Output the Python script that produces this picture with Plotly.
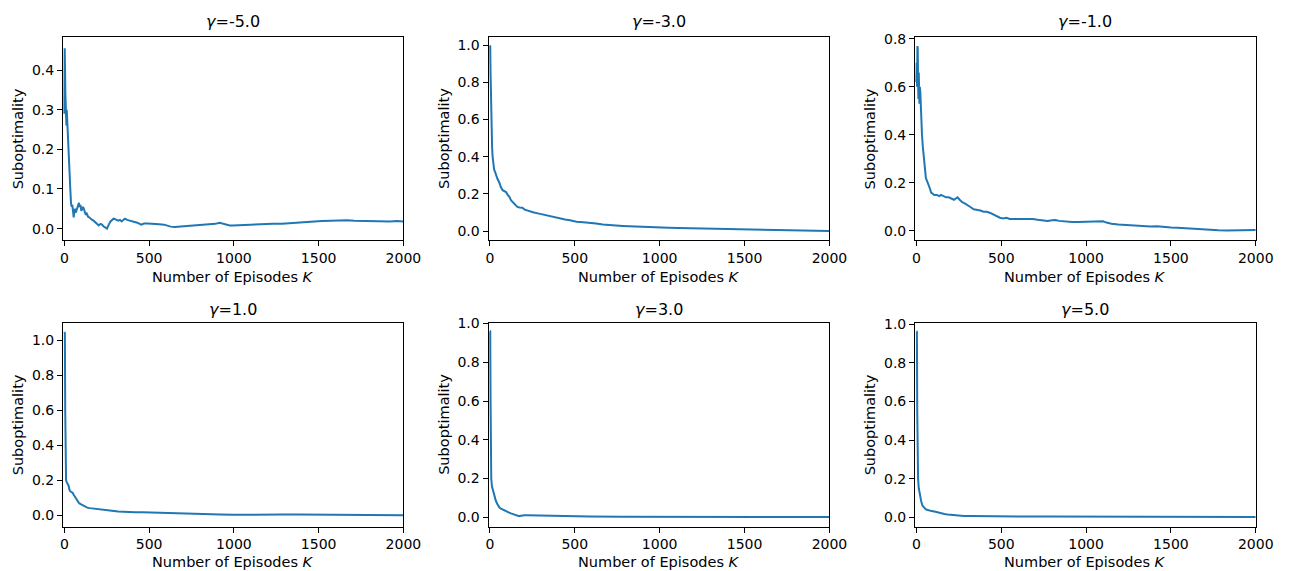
import plotly.graph_objects as go

# ---------------- data ----------------
gammas = ["-5.0", "-3.0", "-1.0", "1.0", "3.0", "5.0"]

k_g_m5 = [0, 2, 4, 6, 8, 10, 12, 14, 16, 19, 22, 25, 28, 31, 35, 39, 43, 47, 51, 55, 59, 63, 67, 71, 76, 81, 86,
          90, 95, 100, 105, 110, 115, 120, 126, 132, 140, 148, 156, 164, 172, 183, 193, 203, 213, 222, 230, 237,
          245, 251, 258, 264, 272, 280, 290, 299, 308, 318, 328, 338, 348, 357, 370, 386, 400, 415, 430, 453,
          470, 492, 510, 530, 560, 588, 610, 627, 650, 685, 710, 742, 770, 800, 830, 858, 890, 916, 935, 955,
          975, 993, 1040, 1090, 1140, 1186, 1230, 1283, 1330, 1379, 1430, 1475, 1520, 1572, 1620, 1668, 1710,
          1765, 1810, 1861, 1920, 1960, 2000]
v_g_m5 = [0.29, 0.455, 0.40, 0.34, 0.27, 0.32, 0.26, 0.30, 0.28, 0.25, 0.20, 0.16, 0.17, 0.13, 0.10, 0.065,
          0.055, 0.06, 0.04, 0.028, 0.045, 0.05, 0.04, 0.045, 0.055, 0.06, 0.065, 0.055, 0.06, 0.045, 0.05,
          0.055, 0.05, 0.04, 0.035, 0.038, 0.03, 0.028, 0.024, 0.022, 0.02, 0.015, 0.01, 0.008, 0.012, 0.01,
          0.006, 0.005, 0.002, 0.0, 0.008, 0.012, 0.018, 0.022, 0.025, 0.024, 0.022, 0.02, 0.022, 0.018, 0.022,
          0.025, 0.022, 0.02, 0.018, 0.018, 0.015, 0.01, 0.013, 0.013, 0.012, 0.012, 0.011, 0.01, 0.007, 0.005,
          0.004, 0.005, 0.006, 0.007, 0.008, 0.01, 0.009, 0.01, 0.012, 0.015, 0.013, 0.01, 0.008, 0.008, 0.009,
          0.01, 0.011, 0.012, 0.012, 0.012, 0.013, 0.015, 0.016, 0.018, 0.019, 0.02, 0.02, 0.021, 0.02, 0.019,
          0.02, 0.019, 0.018, 0.019, 0.018]

k_g_m3 = [0, 2, 4, 6, 8, 10, 13, 16, 20, 25, 30, 37, 45, 56, 65, 75, 85, 95, 105, 114, 125, 135, 148, 162, 176,
          191, 205, 220, 240, 259, 283, 307, 330, 356, 385, 414, 443, 472, 510, 550, 588, 626, 665, 705, 743,
          782, 820, 880, 936, 995, 1052, 1110, 1168, 1226, 1284, 1340, 1400, 1460, 1516, 1575, 1632, 1690,
          1748, 1806, 1864, 1930, 2000]
v_g_m3 = [1.0, 0.995, 0.85, 0.70, 0.60, 0.52, 0.45, 0.40, 0.36, 0.33, 0.32, 0.30, 0.28, 0.26, 0.235, 0.22,
          0.215, 0.21, 0.195, 0.185, 0.165, 0.155, 0.14, 0.13, 0.127, 0.125, 0.115, 0.11, 0.105, 0.10, 0.095,
          0.09, 0.085, 0.08, 0.07, 0.065, 0.062, 0.058, 0.05, 0.047, 0.045, 0.04, 0.035, 0.031, 0.028, 0.027,
          0.025, 0.022, 0.02, 0.018, 0.017, 0.016, 0.015, 0.015, 0.014, 0.012, 0.01, 0.009, 0.008, 0.006,
          0.005, 0.003, 0.002, 0.001, 0.0, 0.0, 0.0]

k_g_m1 = [0, 2, 4, 6, 8, 10, 12, 14, 16, 18, 20, 23, 26, 30, 33, 38, 44, 50, 56, 62, 68, 78, 87, 96, 106, 120,
          135, 145, 160, 175, 190, 205, 222, 232, 242, 255, 270, 285, 299, 318, 338, 357, 377, 396, 415, 435,
          455, 473, 492, 512, 531, 550, 570, 590, 609, 628, 647, 666, 686, 715, 744, 773, 800, 820, 840, 860,
          890, 918, 950, 980, 1010, 1040, 1070, 1100, 1120, 1150, 1190, 1230, 1270, 1304, 1340, 1380, 1420,
          1460, 1500, 1540, 1580, 1630, 1680, 1730, 1780, 1830, 1884, 1930, 1970, 2000]
v_g_m1 = [0.62, 0.70, 0.60, 0.77, 0.76, 0.62, 0.55, 0.66, 0.60, 0.53, 0.60, 0.58, 0.50, 0.45, 0.40, 0.35, 0.30,
          0.25, 0.22, 0.21, 0.20, 0.18, 0.16, 0.155, 0.15, 0.15, 0.145, 0.15, 0.145, 0.14, 0.14, 0.135, 0.13,
          0.135, 0.14, 0.13, 0.12, 0.115, 0.11, 0.10, 0.09, 0.088, 0.085, 0.08, 0.08, 0.075, 0.068, 0.06, 0.055,
          0.052, 0.055, 0.05, 0.05, 0.05, 0.052, 0.05, 0.052, 0.05, 0.05, 0.047, 0.044, 0.042, 0.045, 0.046,
          0.042, 0.040, 0.038, 0.037, 0.037, 0.038, 0.038, 0.04, 0.039, 0.04, 0.035, 0.03, 0.027, 0.025, 0.022,
          0.02, 0.019, 0.019, 0.02, 0.016, 0.014, 0.013, 0.011, 0.009, 0.007, 0.005, 0.003, 0.002, 0.002,
          0.002, 0.003, 0.004]

k_g_p1 = [0, 3, 5, 7, 10, 14, 19, 25, 29, 33, 40, 48, 57, 67, 77, 87, 96, 106, 120, 135, 150, 164, 190, 222,
          250, 280, 318, 360, 415, 460, 492, 530, 569, 610, 646, 700, 760, 839, 920, 993, 1050, 1109, 1186,
          1280, 1379, 1470, 1572, 1670, 1765, 1880, 2000]
v_g_p1 = [1.047, 1.04, 0.60, 0.30, 0.20, 0.19, 0.18, 0.17, 0.15, 0.14, 0.135, 0.13, 0.115, 0.10, 0.085, 0.07,
          0.065, 0.06, 0.05, 0.045, 0.042, 0.04, 0.038, 0.033, 0.03, 0.027, 0.023, 0.02, 0.019, 0.018, 0.017,
          0.015, 0.013, 0.012, 0.011, 0.01, 0.009, 0.007, 0.006, 0.004, 0.005, 0.006, 0.006, 0.005, 0.005,
          0.004, 0.004, 0.003, 0.002, 0.001, 0.001]

k_g_p3 = [0, 2, 4, 6, 8, 12, 17, 22, 27, 35, 43, 50, 56, 65, 75, 85, 95, 110, 124, 135, 143, 152, 162, 172,
          182, 191, 205, 220, 260, 298, 350, 395, 490, 588, 780, 975, 1170, 1362, 1580, 1800, 2000]
v_g_p3 = [0.96, 0.96, 0.60, 0.30, 0.20, 0.16, 0.14, 0.12, 0.10, 0.085, 0.07, 0.058, 0.05, 0.045, 0.04, 0.035,
          0.03, 0.025, 0.02, 0.017, 0.015, 0.011, 0.008, 0.005, 0.008, 0.01, 0.01, 0.01, 0.009, 0.008, 0.007,
          0.006, 0.005, 0.004, 0.003, 0.003, 0.002, 0.002, 0.002, 0.001, 0.001]

k_g_p5 = [0, 3, 5, 7, 10, 14, 19, 24, 29, 36, 44, 51, 58, 68, 77, 90, 106, 125, 145, 165, 184, 210, 242, 280,
          319, 390, 473, 600, 763, 950, 1150, 1340, 1536, 1760, 2000]
v_g_p5 = [0.96, 0.96, 0.55, 0.30, 0.20, 0.15, 0.12, 0.095, 0.08, 0.06, 0.05, 0.045, 0.04, 0.037, 0.035, 0.032,
          0.03, 0.025, 0.02, 0.017, 0.015, 0.012, 0.01, 0.007, 0.006, 0.005, 0.005, 0.004, 0.004, 0.003, 0.003,
          0.002, 0.002, 0.001, 0.001]

series_k = [k_g_m5, k_g_m3, k_g_m1, k_g_p1, k_g_p3, k_g_p5]
series_v = [v_g_m5, v_g_m3, v_g_m1, v_g_p1, v_g_p3, v_g_p5]

x_ticks = [0, 500, 1000, 1500, 2000]
y_ranges = [[-0.029, 0.483], [-0.049, 1.044], [-0.038, 0.807],
            [-0.063, 1.10], [-0.048, 1.005], [-0.048, 1.008]]
y_dticks = [0.1, 0.2, 0.2, 0.2, 0.2, 0.2]

# ---------------- layout geometry ----------------
W, H = 1301, 571
col_px = [(61, 407), (493.5, 840), (927, 1273.3)]
row_px = [(30.5, 236), (319.5, 526)]

FONT = "DejaVu Sans"
LINE_COLOR = "#1f77b4"
TICK_SIZE = 14
LABEL_SIZE = 14.5
TITLE_SIZE = 16

fig = go.Figure()
annotations = []
for i in range(6):
    r, c = divmod(i, 3)
    xa = "x" if i == 0 else f"x{i+1}"
    ya = "y" if i == 0 else f"y{i+1}"
    fig.add_trace(go.Scatter(x=series_k[i], y=series_v[i], mode="lines",
                             line=dict(color=LINE_COLOR, width=2),
                             xaxis=xa, yaxis=ya, showlegend=False))
    x0, x1 = col_px[c]
    ytop, ybot = row_px[r]
    xdom = [x0 / W, x1 / W]
    ydom = [(H - ybot) / H, (H - ytop) / H]
    axcommon = dict(showline=True, mirror=True, linecolor="black", linewidth=1,
                    ticks="outside", ticklen=5, tickwidth=1, tickcolor="black",
                    showgrid=False, zeroline=False,
                    tickfont=dict(family=FONT, size=TICK_SIZE, color="black"))
    fig.layout[("xaxis" if i == 0 else f"xaxis{i+1}")] = dict(
        domain=xdom, range=[-8, 2000], tickvals=x_ticks,
        anchor=ya, **axcommon)
    fig.layout[("yaxis" if i == 0 else f"yaxis{i+1}")] = dict(
        domain=ydom, range=y_ranges[i], dtick=y_dticks[i], tick0=0,
        tickformat=".1f", anchor=xa, **axcommon)

    cx = (x0 + x1) / 2
    # title
    ty = 15 if r == 0 else 306
    annotations.append(dict(text=f"<i>γ</i>={gammas[i]}", x=cx / W, y=(H - ty) / H,
                            xref="paper", yref="paper", xanchor="center", yanchor="middle",
                            showarrow=False, font=dict(family=FONT, size=TITLE_SIZE, color="black")))
    # x label
    ly = 273 if r == 0 else 562
    annotations.append(dict(text="Number of Episodes <i>K</i>", x=cx / W, y=(H - ly) / H,
                            xref="paper", yref="paper", xanchor="center", yanchor="middle",
                            showarrow=False, font=dict(family=FONT, size=LABEL_SIZE, color="black")))
    # y label
    yl_x = x0 - 46
    yl_y = (ytop + ybot) / 2
    annotations.append(dict(text="Suboptimality", x=yl_x / W, y=(H - yl_y) / H,
                            xref="paper", yref="paper", xanchor="center", yanchor="middle",
                            textangle=-90, showarrow=False,
                            font=dict(family=FONT, size=LABEL_SIZE, color="black")))

fig.update_layout(width=W, height=H, margin=dict(l=0, r=0, t=0, b=0),
                  paper_bgcolor="white", plot_bgcolor="white",
                  annotations=annotations)

fig.write_html("out.html")
